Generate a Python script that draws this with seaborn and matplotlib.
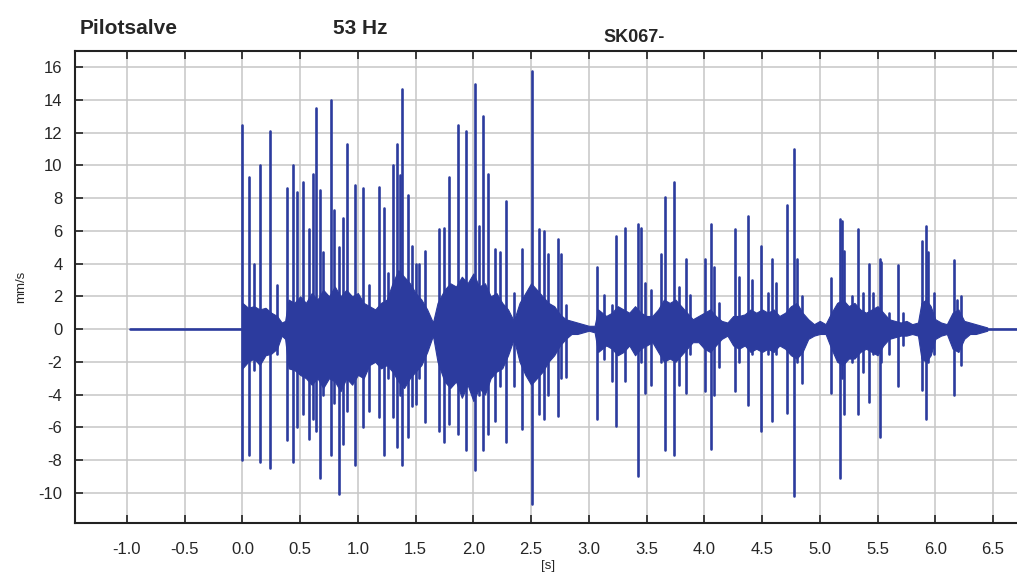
import numpy as np
import pandas as pd
import matplotlib
matplotlib.use("Agg")
import matplotlib.pyplot as plt
import seaborn as sns

# =========================================================
# DATA
# =========================================================

# quiet lead-in before the first blast
pre_t = [-0.97, 0.0]
pre_v = [0.0, 0.0]

# individual peaks: time [s], positive peak, negative peak [mm/s]
spike_t = [0.000, 0.058, 0.100, 0.150, 0.237, 0.300, 0.390, 0.440, 0.476, 0.526,
           0.580, 0.610, 0.635, 0.670, 0.700, 0.765, 0.790, 0.838, 0.870, 0.910,
           0.976, 1.040, 1.098, 1.180, 1.227, 1.260, 1.308, 1.337, 1.366, 1.386,
           1.436, 1.468, 1.503, 1.530, 1.580, 1.704, 1.748, 1.785, 1.869, 1.936,
           2.013, 2.050, 2.080, 2.129, 2.186, 2.233, 2.282, 2.348, 2.420, 2.504,
           2.570, 2.610, 2.643, 2.730, 2.760, 2.800, 3.068, 3.130, 3.200, 3.235,
           3.310, 3.370, 3.423, 3.450, 3.490, 3.540, 3.625, 3.663, 3.741, 3.780,
           3.840, 3.880, 4.006, 4.058, 4.080, 4.130, 4.266, 4.300, 4.382, 4.410,
           4.490, 4.550, 4.584, 4.620, 4.717, 4.780, 4.800, 4.850, 5.098, 5.179,
           5.190, 5.210, 5.280, 5.330, 5.370, 5.425, 5.460, 5.517, 5.530, 5.600,
           5.676, 5.720, 5.887, 5.920, 5.940, 5.985, 6.161, 6.190, 6.224]
spike_hi = [12.5, 9.3, 4.0, 10.0, 12.1, 2.7, 8.6, 10.0, 8.4, 9.0,
            6.1, 9.5, 13.5, 8.5, 4.7, 14.0, 7.3, 5.0, 6.8, 11.3,
            8.8, 8.6, 2.7, 8.7, 7.4, 3.4, 10.0, 11.3, 9.4, 14.7,
            8.2, 5.1, 4.0, 4.0, 4.8, 6.1, 6.2, 9.3, 12.5, 12.1,
            15.0, 6.3, 13.0, 9.5, 4.9, 4.7, 7.8, 2.2, 4.9, 15.8,
            6.1, 6.0, 4.6, 5.5, 4.6, 1.5, 3.8, 2.1, 1.5, 5.7,
            6.2, 1.0, 6.4, 6.2, 2.8, 2.4, 4.6, 8.1, 9.0, 2.6,
            4.3, 2.1, 4.3, 6.4, 3.8, 1.6, 6.1, 3.2, 6.9, 3.0,
            5.1, 2.2, 4.3, 2.8, 7.6, 11.0, 4.3, 2.0, 3.1, 6.7,
            6.6, 4.8, 2.0, 6.1, 2.2, 4.0, 2.2, 4.3, 4.1, 1.0,
            3.9, 1.0, 5.4, 6.3, 4.7, 2.2, 4.2, 1.8, 2.0]
spike_lo = [-8.0, -7.7, -2.5, -8.1, -8.5, -1.5, -6.8, -8.1, -6.0, -5.2,
            -6.7, -5.5, -6.2, -9.1, -4.0, -7.7, -4.5, -10.1, -7.0, -5.0,
            -8.3, -6.0, -5.0, -5.4, -7.7, -3.0, -5.4, -7.2, -4.0, -8.3,
            -6.6, -4.7, -4.6, -3.0, -5.7, -6.2, -6.9, -5.8, -6.4, -7.4,
            -8.6, -4.0, -7.4, -6.4, -5.6, -3.5, -6.9, -3.5, -6.1, -10.7,
            -5.2, -5.5, -4.0, -5.3, -3.0, -2.9, -5.5, -1.8, -3.2, -5.9,
            -3.2, -1.1, -9.0, -2.0, -3.9, -3.4, -2.0, -7.4, -7.7, -3.4,
            -3.9, -1.5, -3.8, -7.3, -4.0, -2.3, -3.8, -2.0, -4.65, -1.5,
            -6.2, -1.5, -5.6, -1.5, -5.1, -10.2, -2.0, -3.3, -3.9, -9.1,
            -3.0, -5.2, -2.0, -5.2, -2.6, -4.45, -1.5, -6.6, -2.0, -1.5,
            -3.5, -1.0, -3.7, -5.5, -2.0, -1.5, -4.0, -1.0, -2.2]

# dense oscillation core (upper / lower edge)
core_t = [0.00, 0.05, 0.10, 0.15, 0.20, 0.25, 0.30, 0.34, 0.37, 0.40,
          0.45, 0.50, 0.55, 0.60, 0.65, 0.70, 0.75, 0.80, 0.85, 0.90,
          0.95, 1.00, 1.05, 1.10, 1.15, 1.20, 1.25, 1.30, 1.35, 1.40,
          1.45, 1.50, 1.55, 1.60, 1.65, 1.69, 1.75, 1.80, 1.85, 1.90,
          1.95, 2.00, 2.05, 2.10, 2.15, 2.20, 2.25, 2.30, 2.35, 2.40,
          2.45, 2.50, 2.55, 2.60, 2.65, 2.70, 2.75, 2.80, 2.85, 2.90,
          2.95, 3.00, 3.05, 3.08, 3.15, 3.20, 3.25, 3.30, 3.35, 3.40,
          3.45, 3.50, 3.55, 3.60, 3.65, 3.70, 3.75, 3.80, 3.85, 3.90,
          3.95, 4.00, 4.05, 4.10, 4.15, 4.20, 4.25, 4.30, 4.35, 4.40,
          4.45, 4.50, 4.55, 4.60, 4.65, 4.70, 4.75, 4.80, 4.85, 4.90,
          4.95, 5.00, 5.05, 5.10, 5.15, 5.20, 5.25, 5.30, 5.35, 5.40,
          5.45, 5.50, 5.55, 5.60, 5.65, 5.70, 5.75, 5.80, 5.85, 5.88,
          5.92, 5.96, 6.00, 6.05, 6.10, 6.15, 6.20, 6.25, 6.30, 6.35,
          6.40, 6.45]
core_hi = [1.6, 1.3, 1.4, 1.2, 1.3, 1.0, 0.8, 0.4, 0.5, 1.8,
           1.6, 2.0, 1.6, 2.2, 1.8, 2.4, 2.0, 2.6, 2.0, 2.4,
           2.0, 2.2, 1.6, 1.4, 1.2, 1.6, 1.8, 2.8, 3.6, 3.2,
           2.8, 2.2, 1.8, 1.2, 0.4, 1.6, 2.4, 2.8, 2.6, 3.2,
           2.8, 3.4, 2.6, 2.8, 2.0, 2.2, 1.6, 1.2, 0.5, 1.6,
           2.2, 2.8, 2.4, 2.0, 1.6, 1.4, 0.9, 0.6, 0.5, 0.4,
           0.3, 0.2, 0.2, 1.2, 0.8, 1.0, 1.4, 1.2, 1.0, 1.4,
           1.0, 0.8, 0.8, 1.2, 1.8, 1.6, 1.8, 1.4, 1.0, 0.6,
           0.8, 1.0, 1.2, 0.8, 0.5, 0.4, 0.8, 0.8, 0.9, 1.2,
           1.0, 1.2, 1.0, 1.2, 0.8, 1.0, 1.4, 1.6, 1.0, 0.6,
           0.3, 0.5, 0.3, 1.0, 1.6, 1.8, 1.4, 1.6, 1.2, 1.0,
           1.2, 1.4, 1.0, 0.6, 0.5, 0.4, 0.5, 0.3, 0.4, 1.6,
           1.8, 1.4, 0.6, 0.4, 0.3, 1.0, 1.2, 0.5, 0.4, 0.3,
           0.2, 0.1]
core_lo = [-2.4, -2.0, -1.8, -2.2, -1.6, -1.5, -1.2, -0.4, -0.6, -2.4,
           -2.5, -2.8, -3.0, -3.4, -3.0, -3.6, -3.0, -3.2, -3.8, -3.0,
           -3.4, -2.8, -3.0, -2.2, -2.0, -2.4, -2.2, -2.6, -3.2, -3.6,
           -3.0, -2.6, -2.2, -1.4, -0.4, -2.0, -3.2, -3.6, -3.2, -4.2,
           -3.4, -4.4, -3.6, -4.0, -3.0, -2.6, -2.4, -1.6, -0.6, -2.0,
           -2.8, -3.4, -3.0, -2.6, -2.0, -1.6, -1.0, -0.6, -0.3, -0.3,
           -0.2, -0.1, -0.2, -1.4, -1.0, -1.2, -1.6, -1.4, -1.0, -1.6,
           -1.2, -1.0, -0.8, -1.4, -2.0, -1.8, -2.0, -1.6, -1.2, -0.8,
           -0.8, -1.2, -1.4, -1.0, -0.6, -0.4, -1.0, -1.2, -1.0, -1.4,
           -1.2, -1.4, -1.2, -1.4, -1.0, -1.2, -1.6, -1.8, -1.4, -0.6,
           -0.4, -0.3, -0.3, -1.2, -2.0, -2.2, -1.8, -1.8, -1.4, -1.2,
           -1.4, -1.6, -1.0, -0.6, -0.5, -0.4, -0.4, -0.3, -0.4, -1.8,
           -2.0, -1.6, -0.6, -0.4, -0.3, -1.2, -1.4, -0.6, -0.3, -0.3,
           -0.2, -0.1]

# quiet tail
post_t = [6.45, 6.74]
post_v = [0.0, 0.0]

x_ticks = [-1.0, -0.5, 0.0, 0.5, 1.0, 1.5, 2.0, 2.5, 3.0, 3.5, 4.0, 4.5, 5.0, 5.5, 6.0, 6.5]
y_ticks = [-10, -8, -6, -4, -2, 0, 2, 4, 6, 8, 10, 12, 14, 16]

# =========================================================
# BUILD TRACE TABLE (one unit per stroke)
# =========================================================

rows = []
for t, v in zip(pre_t, pre_v):
    rows.append(("pre", t, v))
for t, v in zip(post_t, post_v):
    rows.append(("post", t, v))
for i, (t, hi, lo) in enumerate(zip(spike_t, spike_hi, spike_lo)):
    rows.append((f"s{i}", t, hi))
    rows.append((f"s{i}", t, lo))

trace = pd.DataFrame(rows, columns=["unit", "t", "v"])

# =========================================================
# STYLE
# =========================================================

sns.set_style("whitegrid")
plt.rcParams["font.family"] = ["Liberation Sans", "DejaVu Sans"]

blue = "#2C3B9E"

fig = plt.figure(figsize=(10.17, 5.72), dpi=100)
ax = fig.add_axes([0.0737, 0.0857, 0.93, 0.8253])

ax.fill_between(core_t, core_lo, core_hi, color=blue, linewidth=0.8,
                edgecolor=blue, zorder=2)

sns.lineplot(
    data=trace,
    x="t",
    y="v",
    units="unit",
    sort=False,
    estimator=None,
    color=blue,
    linewidth=1.9,
    ax=ax,
    zorder=3
)

ax.set_xlim(-1.45, 6.74)
ax.set_ylim(-11.85, 17.0)
ax.set_xticks(x_ticks)
ax.set_xticklabels([f"{v:.1f}" for v in x_ticks], fontsize=12)
ax.set_yticks(y_ticks)
ax.set_yticklabels([str(v) for v in y_ticks], fontsize=12)

ax.grid(True, color="#c6c6c6", linewidth=1.1)
ax.set_axisbelow(True)

for side in ["left", "bottom", "top"]:
    ax.spines[side].set_color("#222222")
    ax.spines[side].set_linewidth(1.5)
ax.spines["right"].set_visible(False)

ax.tick_params(axis="both", direction="in", length=6, width=1.2, color="#222222",
               top=True, bottom=True, left=True, right=False)
ax.tick_params(axis="x", pad=14)
ax.tick_params(axis="y", pad=9)

ax.set_xlabel("[s]", fontsize=9.5, labelpad=2)
ax.set_ylabel("mm/s", fontsize=9.5, labelpad=8)

fig.text(80 / 1017, 1 - 28 / 572, "Pilotsalve", fontsize=15, fontweight="bold", va="center")
fig.text(333 / 1017, 1 - 28 / 572, "53 Hz", fontsize=15, fontweight="bold", va="center")
fig.text(603 / 1017, 1 - 38 / 572, "SK067-", fontsize=13, fontweight="bold", va="center")

fig.savefig("out.png", dpi=100)
